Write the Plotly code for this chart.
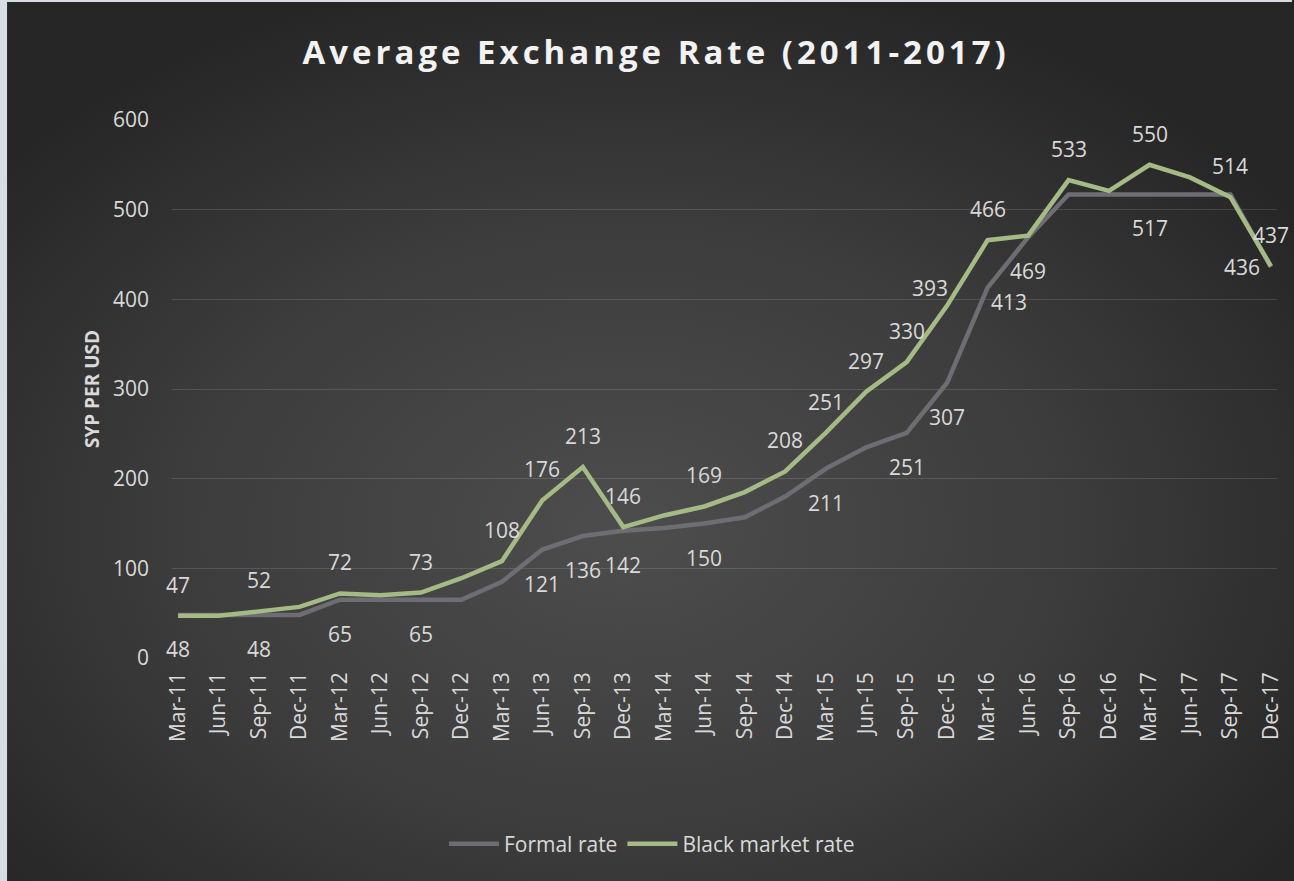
import base64
import plotly.graph_objects as go

# ---------------- data ----------------
categories = ["Mar-11", "Jun-11", "Sep-11", "Dec-11", "Mar-12", "Jun-12", "Sep-12", "Dec-12",
              "Mar-13", "Jun-13", "Sep-13", "Dec-13", "Mar-14", "Jun-14", "Sep-14", "Dec-14",
              "Mar-15", "Jun-15", "Sep-15", "Dec-15", "Mar-16", "Jun-16", "Sep-16", "Dec-16",
              "Mar-17", "Jun-17", "Sep-17", "Dec-17"]
formal_rate = [48, 48, 48, 48, 65, 65, 65, 65, 85, 121, 136, 142, 145, 150, 157, 180,
               211, 235, 251, 307, 413, 469, 517, 517, 517, 517, 517, 436]
black_market_rate = [47, 47, 52, 57, 72, 70, 73, 89, 108, 176, 213, 146, 159, 169, 185, 208,
                     251, 297, 330, 393, 466, 471, 533, 521, 550, 536, 514, 437]
y_ticks = [0, 100, 200, 300, 400, 500, 600]

# which points carry a data label (style config, separate from data)
black_labelled = [0, 2, 4, 6, 8, 9, 10, 11, 13, 15, 16, 17, 18, 19, 20, 22, 24, 26, 27]
formal_labelled = [0, 2, 4, 6, 9, 10, 11, 13, 16, 18, 19, 20, 21, 24, 27]
# (xshift, yshift) in pixels; default above / below
ABOVE = (0, 31)
BELOW = (0, -34)
black_custom = {19: (-17, 18)}
formal_custom = {20: (21, -14), 27: (-29, 0)}

# ---------------- style ----------------
W, H = 1294, 881
ML, MR, MT, MB = 172, 10, 120, 223
PW, PH = W - ML - MR, H - MT - MB
GRAY = "#6e6d74"
GREEN = "#a4bb85"
TXT = "#d9d9d9"
BORDER = "#d6dde5"
FONT = "Open Sans"
FS = 21

fig = go.Figure()
fig.add_trace(go.Scatter(x=categories, y=formal_rate, name="Formal rate", mode="lines",
                         line=dict(color=GRAY, width=4.5), cliponaxis=False))
fig.add_trace(go.Scatter(x=categories, y=black_market_rate, name="Black market rate", mode="lines",
                         line=dict(color=GREEN, width=4.5), cliponaxis=False))

annotations = []
for i in black_labelled:
    dx, dy = black_custom.get(i, ABOVE)
    annotations.append(dict(x=categories[i], y=black_market_rate[i], text=str(black_market_rate[i]),
                            xref="x", yref="y", showarrow=False, xshift=dx, yshift=dy,
                            xanchor="center", yanchor="middle",
                            font=dict(family=FONT, size=FS, color=TXT)))
for i in formal_labelled:
    dx, dy = formal_custom.get(i, BELOW)
    annotations.append(dict(x=categories[i], y=formal_rate[i], text=str(formal_rate[i]),
                            xref="x", yref="y", showarrow=False, xshift=dx, yshift=dy,
                            xanchor="center", yanchor="middle",
                            font=dict(family=FONT, size=FS, color=TXT)))

# gradient background for the dark chart area
bx0, by0 = 6, 2
bw, bh = W - bx0 + 30, H - by0 + 30
svg = (f'<svg xmlns="http://www.w3.org/2000/svg" width="{bw}" height="{bh}" '
       f'viewBox="0 0 {bw} {bh}" preserveAspectRatio="none"><defs>'
       '<radialGradient id="g" cx="0.47" cy="0.58" r="0.62">'
       '<stop offset="0" stop-color="#4d4d4d"/><stop offset="0.55" stop-color="#3c3c3c"/>'
       '<stop offset="1" stop-color="#262626"/></radialGradient></defs>'
       f'<rect width="{bw}" height="{bh}" fill="url(#g)"/></svg>')
src = "data:image/svg+xml;base64," + base64.b64encode(svg.encode()).decode()

def px_x(p):
    return (p - ML) / PW

def px_y(p):
    return (H - MB - p) / PH

# light frame strips on the left and top edges
shapes = [
    dict(type="rect", xref="paper", yref="paper", x0=px_x(-5), x1=px_x(bx0), y0=px_y(H + 5), y1=px_y(-5),
         fillcolor=BORDER, line=dict(width=0), layer="below"),
    dict(type="rect", xref="paper", yref="paper", x0=px_x(-5), x1=px_x(W + 5), y0=px_y(by0), y1=px_y(-5),
         fillcolor=BORDER, line=dict(width=0), layer="below"),
]

fig.update_layout(
    width=W, height=H,
    margin=dict(l=ML, r=MR, t=MT, b=MB, pad=0),
    paper_bgcolor="#2a2a2a",
    plot_bgcolor="rgba(0,0,0,0)",
    font=dict(family=FONT, color=TXT, size=FS),
    images=[dict(source=src, xref="paper", yref="paper",
                 x=px_x(bx0), y=px_y(by0),
                 sizex=bw / PW, sizey=bh / PH, xanchor="left", yanchor="top",
                 sizing="stretch", layer="below")],
    shapes=shapes,
    title=dict(text='<span style="letter-spacing:4px">Average Exchange Rate (2011-2017)</span>',
               font=dict(family=FONT, size=33, color="#f2f2f2", weight="bold"),
               x=0.507, xanchor="center", y=1 - 52 / H, yanchor="middle", yref="container"),
    xaxis=dict(type="category", range=[-0.15, len(categories) - 1 + 0.15],
               showgrid=False, showline=False, zeroline=False, ticks="",
               tickangle=-90, tickfont=dict(family=FONT, size=FS, color=TXT),
               ticklabelstandoff=9),
    yaxis=dict(range=[0, 600], tickvals=y_ticks, showgrid=True,
               gridcolor="rgba(255,255,255,0.13)", gridwidth=1,
               zeroline=False, showline=False, ticks="",
               tickfont=dict(family=FONT, size=FS, color=TXT), ticklabelstandoff=22,
               title=dict(text="SYP PER USD", standoff=8,
                          font=dict(family=FONT, size=19, color=TXT, weight="bold"))),
    legend=dict(orientation="h", x=(655 - ML) / PW, xanchor="center",
                y=(H - MB - 844) / PH, yanchor="middle",
                font=dict(family=FONT, size=FS, color=TXT), bgcolor="rgba(0,0,0,0)",
                itemwidth=50, tracegroupgap=0),
    annotations=annotations,
    showlegend=True,
)

fig.write_html("out.html")
